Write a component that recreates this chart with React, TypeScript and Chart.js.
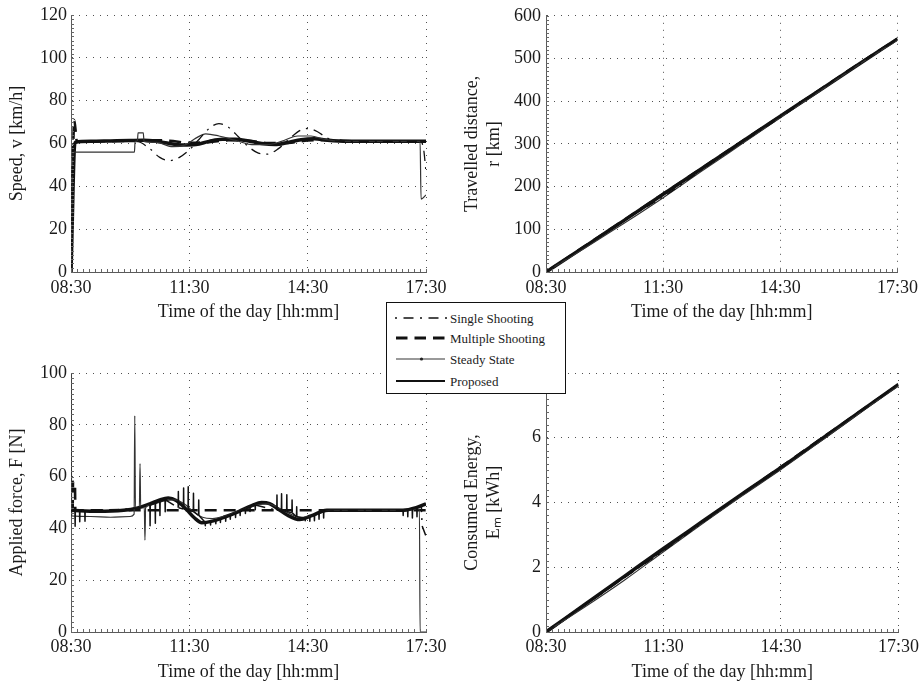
import React, { useEffect, useRef } from "react";
import { Chart, registerables } from "chart.js";

Chart.register(...registerables);

// ---------------- axis / legend text ----------------
const timeTickValues = [0, 180, 360, 540]; // minutes after 08:30
const timeTickLabels = ["08:30", "11:30", "14:30", "17:30"];
const seriesNames = ["Single Shooting", "Multiple Shooting", "Steady State", "Proposed"];
const xTitle = "Time of the day [hh:mm]";
const speedTitle = "Speed, v [km/h]";
const distanceTitle = ["Travelled distance,", "r [km]"];
const forceTitle = "Applied force, F [N]";
const energyTitle = ["Consumed Energy,", "E\u2098 [kWh]"];

// ---------------- speed [km/h] ----------------
const speedProposedT = [0, 6, 30, 60, 90, 110, 130, 150, 170, 190, 210, 230, 250, 270, 290, 310, 330, 350, 370, 390, 420, 480, 540];
const speedProposedV = [0, 60.5, 61, 61.2, 61.4, 61.5, 61, 60, 59.3, 59.5, 61, 62, 62, 61.2, 60, 59.5, 60.5, 61.8, 62.2, 61.5, 61, 61, 61];
const speedMultipleT = [0, 5, 9, 40, 80, 120, 150, 180, 210, 240, 270, 300, 330, 360, 390, 430, 480, 540];
const speedMultipleV = [0, 71, 61, 61, 61.2, 61.5, 61.3, 60.3, 60.6, 61.5, 61.3, 60.2, 60.3, 61.4, 61.6, 61, 60.8, 60.8];
const speedSingleT = [0, 4, 30, 70, 100, 120, 135, 150, 165, 180, 195, 210, 225, 240, 255, 270, 285, 298, 315, 335, 350, 360, 375, 390, 405, 450, 500, 530, 536, 540];
const speedSingleV = [0, 60, 61, 61, 61, 57.5, 53.5, 52, 53.5, 57, 62, 67, 69.3, 67.5, 63, 58.5, 55.5, 55, 57.5, 63, 66.3, 67, 65.5, 62.5, 61, 61, 61, 61, 58, 47];
const speedSteadyT = [0, 3, 96.5, 97.5, 101, 102, 110, 111, 130, 155, 175, 190, 205, 225, 250, 275, 300, 320, 345, 365, 385, 410, 480, 531, 532.5, 540];
const speedSteadyV = [0, 56, 56, 61, 61, 65, 65, 61, 60.5, 58.5, 59.5, 62.5, 64.5, 63.5, 61.5, 59.5, 59.5, 61, 63.5, 63.5, 62, 61, 61, 61, 34, 36];

// ---------------- travelled distance [km] ----------------
const hourlyT = [0, 60, 120, 180, 240, 300, 360, 420, 480, 540];
const distProposed = [0, 60, 121, 182, 243, 304, 365, 425, 486, 546];
const distMultiple = [0, 61, 122, 183, 244, 305, 365, 426, 487, 546];
const distSingle = [0, 61, 121, 176, 240, 302, 362, 425, 486, 545];
const distSteady = [0, 56, 114, 174, 237, 299, 361, 423, 485, 543];

// ---------------- applied force [N] ----------------
const forceProposedT = [0, 40, 80, 100, 120, 135, 148, 160, 175, 188, 199, 215, 235, 255, 275, 290, 302, 315, 330, 348, 365, 389, 450, 505, 525, 540];
const forceProposedV = [47, 46.6, 47, 47.8, 49.5, 51, 51.7, 50.8, 47.5, 44, 42.2, 42.8, 44.5, 46.5, 48.8, 50, 49.6, 47.5, 45, 43.4, 44.8, 47, 47, 47, 48, 49.5];
const forceMultipleT = [0, 2.5, 3, 6, 6.5, 540];
const forceMultipleV = [47, 47, 58, 58, 47, 47];
// single shooting: smooth anchor points plus chattering control ticks (time, tip value, base value)
const forceSingleAnchorT = [0, 90, 110, 420, 533, 534, 540];
const forceSingleAnchorV = [46.8, 47.5, 48.3, 47, 48.5, 41, 37];
const forceSingleTickT = [6, 13, 21, 120, 128, 135, 143, 163, 171, 178, 186, 194, 204, 212, 220, 227, 235, 242, 250, 257, 265, 272, 280, 313, 320, 328, 336, 343, 356, 363, 370, 377, 384, 505, 512, 519, 526];
const forceSingleTickTip = [40.8, 42.6, 42.8, 41, 42, 45, 46.4, 54.2, 55.6, 56.1, 53.6, 51, 41, 41.3, 41.8, 42.3, 42.8, 43.5, 44.2, 45, 45.8, 46.5, 47.2, 52.9, 53.4, 53, 51, 48.4, 43, 42.8, 43, 43.5, 44, 45, 44.5, 44, 44.5];
const forceSingleTickBase = [46.8, 46.8, 46.8, 49, 49.8, 50.5, 51, 48, 47.5, 47, 46.5, 45, 42.4, 42.6, 43.2, 43.8, 44.5, 45.2, 46, 46.8, 47.6, 48.3, 49, 47, 47, 46.5, 46, 44.5, 44, 44.5, 45.2, 45.8, 46.5, 47, 47.3, 47.7, 48.2];
const forceSteadyT = [0, 1, 30, 60, 90, 96, 97, 98, 104, 105, 106, 111.5, 112.5, 113.5, 120, 140, 158, 172, 186, 200, 215, 235, 260, 285, 300, 315, 330, 350, 370, 395, 450, 500, 530, 531, 540];
const forceSteadyV = [100, 44.8, 44.6, 44.3, 44.6, 45.5, 83.5, 48, 48, 65, 48, 48, 35.5, 48, 49, 50.5, 51, 49.5, 46.5, 44.3, 43.8, 44.8, 47.2, 49.2, 49.5, 48, 46, 44.2, 45, 47, 47, 47, 47.5, 0, 0];

// ---------------- consumed energy [kWh] ----------------
const energyProposed = [0, 0.86, 1.72, 2.58, 3.42, 4.26, 5.08, 5.93, 6.79, 7.65];
const energyMultiple = [0, 0.85, 1.7, 2.55, 3.4, 4.25, 5.1, 5.95, 6.8, 7.64];
const energySingle = [0, 0.84, 1.68, 2.5, 3.38, 4.24, 5.05, 5.92, 6.78, 7.63];
const energySteady = [0, 0.78, 1.6, 2.48, 3.35, 4.2, 5.02, 5.88, 6.76, 7.6];

// ---------------- styling ----------------
const FONT = "'Liberation Serif', 'Times New Roman', serif";
const axisFont = { family: FONT, size: 18, lineHeight: 1.2 };
const textColor = "#1b1b1b";
const gridColor = "#505050";
const axisColor = "#5a5a5a";

const toPts = (t: number[], v: number[]) => t.map((x, i) => ({ x, y: v[i] }));

function singleForcePoints() {
  const pts = toPts(forceSingleAnchorT, forceSingleAnchorV);
  forceSingleTickT.forEach((t, i) => {
    pts.push({ x: t, y: forceSingleTickBase[i] });
    pts.push({ x: t + 0.3, y: forceSingleTickTip[i] });
    pts.push({ x: t + 0.6, y: forceSingleTickBase[i] });
  });
  return pts.sort((a, b) => a.x - b.x);
}

const base = { pointRadius: 0, fill: false, borderJoinStyle: "round" as const };
const styleSingle = { ...base, borderColor: "#111", borderWidth: 1.3, borderDash: [10, 6, 2, 6] };
const styleMultiple = { ...base, borderColor: "#111", borderWidth: 2.6, borderDash: [12, 7] };
const styleSteady = { ...base, borderColor: "#333", borderWidth: 1.2 };
const styleProposed = { ...base, borderColor: "#111", borderWidth: 3.5 };
const smooth = { cubicInterpolationMode: "monotone" as const };
const tickSegments = {
  borderWidth: 1.5,
  segment: {
    borderDash: (ctx: any) => (Math.abs(ctx.p1.parsed.x - ctx.p0.parsed.x) < 0.5 ? [] : undefined),
  },
};

function makeSets(single: any, multiple: any, steady: any, proposed: any) {
  // first in array is drawn on top
  return [
    { label: seriesNames[0], data: single.data, ...styleSingle, ...single.extra },
    { label: seriesNames[2], data: steady.data, ...styleSteady, ...steady.extra },
    { label: seriesNames[3], data: proposed.data, ...styleProposed, ...proposed.extra },
    { label: seriesNames[1], data: multiple.data, ...styleMultiple, ...multiple.extra },
  ];
}

const minorTicksPlugin = {
  id: "minorTicks",
  afterDraw(chart: any, _args: any, opts: any) {
    const { ctx, chartArea: a, scales } = chart;
    const x = scales.x;
    const y = scales.y;
    ctx.save();
    ctx.strokeStyle = "#666";
    ctx.lineWidth = 1;
    ctx.beginPath();
    for (let v = x.min; v <= x.max + 1e-6; v += opts.xStep) {
      const px = Math.round(x.getPixelForValue(v)) + 0.5;
      ctx.moveTo(px, a.bottom);
      ctx.lineTo(px, a.bottom - 3);
    }
    for (let v = y.min; v <= y.max + 1e-6; v += opts.yStep) {
      const py = Math.round(y.getPixelForValue(v)) + 0.5;
      ctx.moveTo(a.left, py);
      ctx.lineTo(a.left + 3, py);
    }
    ctx.stroke();
    ctx.restore();
  },
};

type PanelSpec = {
  left: number; top: number; w: number; h: number;
  yAxisW: number; xAxisH: number; padTop: number; padRight: number;
  yMax: number; yStep: number; yTitle: string | string[]; yTitlePad: number; yTickPad: number;
  xTickPad: number; xTitlePad: number; datasets: any[];
};

function buildConfig(s: PanelSpec): any {
  return {
    type: "line",
    data: { datasets: s.datasets },
    options: {
      animation: false,
      responsive: false,
      devicePixelRatio: 1,
      events: [],
      layout: { padding: { top: s.padTop, right: s.padRight, left: 0, bottom: 0 } },
      plugins: {
        legend: { display: false },
        tooltip: { enabled: false },
        minorTicks: { xStep: 9, yStep: s.yStep / 10 },
      },
      scales: {
        x: {
          type: "linear",
          min: 0,
          max: 540,
          ticks: {
            stepSize: 180,
            autoSkip: false,
            maxRotation: 0,
            padding: s.xTickPad,
            color: textColor,
            font: axisFont,
            callback: (value: any) => {
              const i = timeTickValues.indexOf(Number(value));
              return i >= 0 ? timeTickLabels[i] : "";
            },
          },
          grid: { color: gridColor, lineWidth: 1, drawTicks: false },
          border: { display: true, color: axisColor, width: 1, dash: [1, 6] },
          title: { display: true, text: xTitle, color: textColor, font: axisFont, padding: { top: 0, bottom: s.xTitlePad } },
          afterFit: (scale: any) => { scale.height = s.xAxisH; },
        },
        y: {
          type: "linear",
          min: 0,
          max: s.yMax,
          ticks: { stepSize: s.yStep, autoSkip: false, padding: s.yTickPad, color: textColor, font: axisFont },
          grid: { color: gridColor, lineWidth: 1, drawTicks: false },
          border: { display: true, color: axisColor, width: 1, dash: [1, 6] },
          title: { display: true, text: s.yTitle, color: textColor, font: axisFont, padding: { top: s.yTitlePad, bottom: 0 } },
          afterFit: (scale: any) => { scale.width = s.yAxisW; },
        },
      },
    },
    plugins: [minorTicksPlugin],
  };
}

const speedSpec: PanelSpec = {
  left: 0, top: 0, w: 460, h: 340, yAxisW: 71, xAxisH: 68, padTop: 15, padRight: 34,
  yMax: 120, yStep: 20, yTitle: speedTitle, yTitlePad: 6, yTickPad: 4, xTickPad: 5, xTitlePad: 16.5,
  datasets: makeSets(
    { data: toPts(speedSingleT, speedSingleV), extra: smooth },
    { data: toPts(speedMultipleT, speedMultipleV), extra: smooth },
    { data: toPts(speedSteadyT, speedSteadyV), extra: smooth },
    { data: toPts(speedProposedT, speedProposedV), extra: smooth }
  ),
};

const distanceSpec: PanelSpec = {
  left: 461, top: 0, w: 462, h: 340, yAxisW: 85, xAxisH: 68, padTop: 14, padRight: 22,
  yMax: 600, yStep: 100, yTitle: distanceTitle, yTitlePad: 0.5, yTickPad: 5, xTickPad: 5, xTitlePad: 16.5,
  datasets: makeSets(
    { data: toPts(hourlyT, distSingle), extra: smooth },
    { data: toPts(hourlyT, distMultiple), extra: smooth },
    { data: toPts(hourlyT, distSteady), extra: smooth },
    { data: toPts(hourlyT, distProposed), extra: smooth }
  ),
};

const forceSpec: PanelSpec = {
  left: 0, top: 340, w: 460, h: 341, yAxisW: 71, xAxisH: 49, padTop: 33, padRight: 34,
  yMax: 100, yStep: 20, yTitle: forceTitle, yTitlePad: 6, yTickPad: 4, xTickPad: 4, xTitlePad: -2,
  datasets: makeSets(
    { data: singleForcePoints(), extra: tickSegments },
    { data: toPts(forceMultipleT, forceMultipleV), extra: {} },
    { data: toPts(forceSteadyT, forceSteadyV), extra: smooth },
    { data: toPts(forceProposedT, forceProposedV), extra: smooth }
  ),
};

const energySpec: PanelSpec = {
  left: 461, top: 340, w: 462, h: 341, yAxisW: 85, xAxisH: 49, padTop: 33, padRight: 22,
  yMax: 8, yStep: 2, yTitle: energyTitle, yTitlePad: 0.5, yTickPad: 5, xTickPad: 4, xTitlePad: -2,
  datasets: makeSets(
    { data: toPts(hourlyT, energySingle), extra: smooth },
    { data: toPts(hourlyT, energyMultiple), extra: smooth },
    { data: toPts(hourlyT, energySteady), extra: smooth },
    { data: toPts(hourlyT, energyProposed), extra: smooth }
  ),
};

function Panel({ spec }: { spec: PanelSpec }) {
  const ref = useRef<HTMLCanvasElement | null>(null);
  useEffect(() => {
    if (!ref.current) return;
    const chart = new Chart(ref.current, buildConfig(spec));
    return () => chart.destroy();
  }, [spec]);
  return (
    <canvas
      ref={ref}
      width={spec.w}
      height={spec.h}
      style={{ position: "absolute", left: spec.left, top: spec.top, width: spec.w, height: spec.h }}
    />
  );
}

function Legend() {
  const rows = [16, 36, 57, 79];
  return (
    <svg width={180} height={92} style={{ position: "absolute", left: 386, top: 302 }}>
      <rect x={0.5} y={0.5} width={179} height={91} fill="#fff" stroke="#111" strokeWidth={1} />
      <line x1={9} x2={61} y1={rows[0]} y2={rows[0]} stroke="#111" strokeWidth={1.3} strokeDasharray="2 6.5 10 6.5" />
      <line x1={10} x2={59} y1={rows[1]} y2={rows[1]} stroke="#111" strokeWidth={3} strokeDasharray="11.5 7" />
      <line x1={10} x2={59} y1={rows[2]} y2={rows[2]} stroke="#777" strokeWidth={1.3} />
      <circle cx={35.5} cy={rows[2]} r={1.6} fill="#222" />
      <line x1={10} x2={59} y1={rows[3]} y2={rows[3]} stroke="#111" strokeWidth={2} />
      {seriesNames.map((name, i) => (
        <text
          key={name}
          x={64}
          y={rows[i]}
          dominantBaseline="central"
          style={{ fontFamily: FONT, fontSize: 13 }}
          fill="#1b1b1b"
        >
          {name}
        </text>
      ))}
    </svg>
  );
}

export default function App() {
  return (
    <div style={{ position: "absolute", left: 0, top: 0, width: 923, height: 681, background: "#fff", overflow: "hidden" }}>
      <Panel spec={speedSpec} />
      <Panel spec={distanceSpec} />
      <Panel spec={forceSpec} />
      <Panel spec={energySpec} />
      <Legend />
    </div>
  );
}
